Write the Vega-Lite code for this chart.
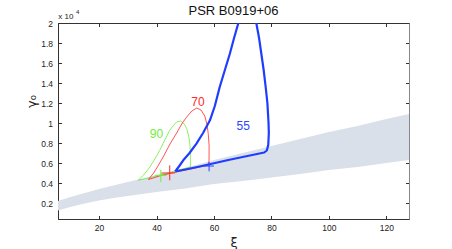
{
  "$schema": "https://vega.github.io/schema/vega-lite/v6.json",
  "width": 351,
  "height": 196,
  "autosize": {"type": "none"},
  "padding": {"left": 58, "top": 23, "right": 43, "bottom": 30},
  "background": "white",
  "title": {"text": "PSR B0919+06", "font": "Liberation Sans", "fontSize": 13, "fontWeight": "normal", "color": "#111", "anchor": "middle", "frame": "group", "offset": -9},
  "config": {
    "view": {"stroke": "#333", "strokeWidth": 1},
    "axis": {"domainColor": "#333", "tickColor": "#333", "labelColor": "#222", "labelFont": "Liberation Sans", "labelFontSize": 8.5, "grid": false, "tickSize": -3.5, "domainWidth": 1, "tickWidth": 1, "titleFont": "DejaVu Sans", "titleFontWeight": "normal", "titleColor": "#222", "labelOverlap": false, "labelBound": false, "labelFlush": false, "tickCount": 30}
  },
  "datasets": {
    "band": [
      {"xi": 5.7, "hi": 0.22, "lo": 0.125},
      {"xi": 10, "hi": 0.26, "lo": 0.16},
      {"xi": 15, "hi": 0.30, "lo": 0.195},
      {"xi": 20, "hi": 0.34, "lo": 0.225},
      {"xi": 25, "hi": 0.375, "lo": 0.25},
      {"xi": 30, "hi": 0.41, "lo": 0.27},
      {"xi": 35, "hi": 0.445, "lo": 0.29},
      {"xi": 40, "hi": 0.48, "lo": 0.31},
      {"xi": 50, "hi": 0.55, "lo": 0.345},
      {"xi": 60, "hi": 0.63, "lo": 0.39},
      {"xi": 70, "hi": 0.70, "lo": 0.42},
      {"xi": 80, "hi": 0.77, "lo": 0.455},
      {"xi": 90, "hi": 0.84, "lo": 0.49},
      {"xi": 100, "hi": 0.91, "lo": 0.53},
      {"xi": 110, "hi": 0.97, "lo": 0.56},
      {"xi": 120, "hi": 1.04, "lo": 0.60},
      {"xi": 127.9, "hi": 1.09, "lo": 0.63}
    ],
    "c90": [
      {"o": 1, "xi": 33.6, "g": 0.427}, {"o": 2, "xi": 35.5, "g": 0.48}, {"o": 3, "xi": 37.7, "g": 0.56},
      {"o": 4, "xi": 39.4, "g": 0.64}, {"o": 5, "xi": 41.1, "g": 0.727}, {"o": 6, "xi": 42.9, "g": 0.83},
      {"o": 7, "xi": 44.6, "g": 0.927}, {"o": 8, "xi": 46, "g": 0.98}, {"o": 9, "xi": 47, "g": 1.01},
      {"o": 10, "xi": 48.4, "g": 1.02}, {"o": 11, "xi": 49.6, "g": 0.99}, {"o": 12, "xi": 50.5, "g": 0.944},
      {"o": 13, "xi": 51.2, "g": 0.87}, {"o": 14, "xi": 51.6, "g": 0.794}, {"o": 15, "xi": 51.8, "g": 0.7},
      {"o": 16, "xi": 51.8, "g": 0.644}, {"o": 17, "xi": 51.8, "g": 0.56}, {"o": 18, "xi": 47, "g": 0.525},
      {"o": 19, "xi": 41, "g": 0.475}, {"o": 20, "xi": 33.6, "g": 0.427}
    ],
    "c70": [
      {"o": 1, "xi": 37.2, "g": 0.435}, {"o": 2, "xi": 39, "g": 0.5}, {"o": 3, "xi": 40.5, "g": 0.57},
      {"o": 4, "xi": 42.3, "g": 0.66}, {"o": 5, "xi": 44.7, "g": 0.79}, {"o": 6, "xi": 47, "g": 0.9},
      {"o": 7, "xi": 49, "g": 1.0}, {"o": 8, "xi": 50.5, "g": 1.06}, {"o": 9, "xi": 52.3, "g": 1.12},
      {"o": 10, "xi": 54, "g": 1.15}, {"o": 11, "xi": 55.5, "g": 1.13}, {"o": 12, "xi": 56.8, "g": 1.07},
      {"o": 13, "xi": 57.6, "g": 0.98}, {"o": 14, "xi": 58, "g": 0.894}, {"o": 15, "xi": 58.3, "g": 0.78},
      {"o": 16, "xi": 58.3, "g": 0.66}, {"o": 17, "xi": 58.2, "g": 0.58}, {"o": 18, "xi": 52, "g": 0.54},
      {"o": 19, "xi": 46, "g": 0.505}, {"o": 20, "xi": 41, "g": 0.47}, {"o": 21, "xi": 37.2, "g": 0.435}
    ],
    "c55": [
      {"o": 1, "xi": 46.5, "g": 0.515}, {"o": 2, "xi": 50, "g": 0.535}, {"o": 3, "xi": 55, "g": 0.565},
      {"o": 4, "xi": 60, "g": 0.597}, {"o": 5, "xi": 65, "g": 0.63}, {"o": 6, "xi": 70, "g": 0.66},
      {"o": 7, "xi": 75, "g": 0.69}, {"o": 8, "xi": 77.5, "g": 0.705}, {"o": 9, "xi": 78.4, "g": 0.725},
      {"o": 10, "xi": 78.9, "g": 0.78}, {"o": 11, "xi": 79.1, "g": 0.9}, {"o": 12, "xi": 79.0, "g": 1.0},
      {"o": 13, "xi": 78.6, "g": 1.2}, {"o": 14, "xi": 78.0, "g": 1.36}, {"o": 15, "xi": 77.3, "g": 1.53},
      {"o": 16, "xi": 76.5, "g": 1.69}, {"o": 17, "xi": 75.7, "g": 1.85}, {"o": 18, "xi": 74.8, "g": 1.99},
      {"o": 19, "xi": 73.5, "g": 2.12}, {"o": 20, "xi": 71.5, "g": 2.17}, {"o": 21, "xi": 69.5, "g": 2.1},
      {"o": 22, "xi": 68.4, "g": 1.99}, {"o": 23, "xi": 67, "g": 1.85}, {"o": 24, "xi": 65.5, "g": 1.69},
      {"o": 25, "xi": 63.8, "g": 1.53}, {"o": 26, "xi": 62, "g": 1.36}, {"o": 27, "xi": 60.3, "g": 1.17},
      {"o": 28, "xi": 58.6, "g": 1.027}, {"o": 29, "xi": 56.2, "g": 0.9}, {"o": 30, "xi": 53.9, "g": 0.794},
      {"o": 31, "xi": 51.5, "g": 0.7}, {"o": 32, "xi": 49.3, "g": 0.627}, {"o": 33, "xi": 47.8, "g": 0.565},
      {"o": 34, "xi": 46.5, "g": 0.515}
    ],
    "crosses": [
      {"s": "90", "xa": 39.4, "xb": 43.5, "ya": 0.477, "yb": 0.477},
      {"s": "90", "xa": 41.5, "xb": 41.5, "ya": 0.41, "yb": 0.53},
      {"s": "70", "xa": 41.7, "xb": 46.4, "ya": 0.50, "yb": 0.50},
      {"s": "70", "xa": 44.6, "xb": 44.6, "ya": 0.427, "yb": 0.577},
      {"s": "55", "xa": 56.5, "xb": 60.0, "ya": 0.57, "yb": 0.57},
      {"s": "55", "xa": 58.3, "xb": 58.3, "ya": 0.517, "yb": 0.61}
    ],
    "labels": [
      {"s": "90", "xi": 40, "g": 0.894, "t": "90"},
      {"s": "70", "xi": 54.4, "g": 1.207, "t": "70"},
      {"s": "55", "xi": 70.2, "g": 0.967, "t": "55"}
    ],
    "expo": [
      {"xi": 5.8, "g": 2.065, "t": "x 10", "fs": 8},
      {"xi": 12.0, "g": 2.11, "t": "4", "fs": 6}
    ]
  },
  "layer": [
    {
      "layer": [
        {
          "data": {"name": "band"},
          "mark": {"type": "area", "color": "#d9e0ea", "stroke": null},
          "encoding": {
            "x": {"field": "xi", "type": "quantitative", "scale": {"domain": [5.7, 127.9], "nice": false, "zero": false},
              "axis": {"values": [20, 40, 60, 80, 100, 120], "tickCount": 30, "title": "ξ", "titleFontSize": 13, "titleY": 23, "titleBaseline": "middle", "labelPadding": 8, "labelOverlap": false}},
            "y": {"field": "hi", "type": "quantitative", "scale": {"domain": [0.04, 2], "nice": false, "zero": false},
              "axis": {"values": [0.2, 0.4, 0.6, 0.8, 1, 1.2, 1.4, 1.6, 1.8, 2], "tickCount": 30, "format": "~g", "title": "γ₀", "titleFontSize": 13, "titleX": -27, "titleY": 78, "titleAlign": "center", "titleBaseline": "middle", "labelPadding": 9, "labelOverlap": false, "labelBound": false}},
            "y2": {"field": "lo"}
          }
        },
        {
          "data": {"name": "c90"},
          "mark": {"type": "line", "color": "#70ee3a", "strokeWidth": 0.8, "clip": true},
          "encoding": {"x": {"field": "xi", "type": "quantitative"}, "y": {"field": "g", "type": "quantitative"}, "order": {"field": "o"}}
        },
        {
          "data": {"name": "c70"},
          "mark": {"type": "line", "color": "#ff2a2a", "strokeWidth": 0.8, "clip": true},
          "encoding": {"x": {"field": "xi", "type": "quantitative"}, "y": {"field": "g", "type": "quantitative"}, "order": {"field": "o"}}
        },
        {
          "data": {"name": "c55"},
          "mark": {"type": "line", "color": "#1f3dff", "strokeWidth": 2.2, "clip": true, "strokeJoin": "round"},
          "encoding": {"x": {"field": "xi", "type": "quantitative"}, "y": {"field": "g", "type": "quantitative"}, "order": {"field": "o"}}
        },
        {
          "data": {"name": "crosses"},
          "mark": {"type": "rule", "strokeWidth": 1},
          "encoding": {
            "x": {"field": "xa", "type": "quantitative"}, "x2": {"field": "xb"},
            "y": {"field": "ya", "type": "quantitative"}, "y2": {"field": "yb"},
            "color": {"field": "s", "type": "nominal", "scale": {"domain": ["90", "70", "55"], "range": ["#70ee3a", "#ff2a2a", "#2a45ff"]}, "legend": null}
          }
        },
        {
          "data": {"name": "labels"},
          "mark": {"type": "text", "font": "Liberation Sans", "fontSize": 12, "align": "center", "baseline": "middle"},
          "encoding": {
            "x": {"field": "xi", "type": "quantitative"}, "y": {"field": "g", "type": "quantitative"},
            "text": {"field": "t"},
            "color": {"field": "s", "type": "nominal", "scale": {"domain": ["90", "70", "55"], "range": ["#70ee3a", "#ff2a2a", "#3a55f0"]}, "legend": null}
          }
        },
        {
          "data": {"name": "expo"},
          "mark": {"type": "text", "font": "Liberation Sans", "align": "left", "baseline": "middle", "color": "#222"},
          "encoding": {
            "x": {"field": "xi", "type": "quantitative"}, "y": {"field": "g", "type": "quantitative"},
            "text": {"field": "t"},
            "size": {"field": "fs", "type": "quantitative", "scale": null}
          }
        }
      ]
    },
    {
      "data": {"name": "band"},
      "mark": {"type": "point", "opacity": 0},
      "encoding": {
        "x": {"field": "xi", "type": "quantitative", "scale": {"domain": [5.7, 127.9], "nice": false, "zero": false},
          "axis": {"orient": "top", "values": [20, 40, 60, 80, 100, 120], "tickCount": 30, "labels": false, "title": null, "domainColor": "#333", "domain": true, "ticks": true}},
        "y": {"field": "hi", "type": "quantitative", "scale": {"domain": [0.04, 2], "nice": false, "zero": false},
          "axis": {"orient": "right", "values": [0.2, 0.4, 0.6, 0.8, 1, 1.2, 1.4, 1.6, 1.8, 2], "tickCount": 30, "labels": false, "title": null, "domainColor": "#888"}}
      }
    }
  ],
  "resolve": {"scale": {"x": "independent", "y": "independent"}, "axis": {"x": "independent", "y": "independent"}}
}
